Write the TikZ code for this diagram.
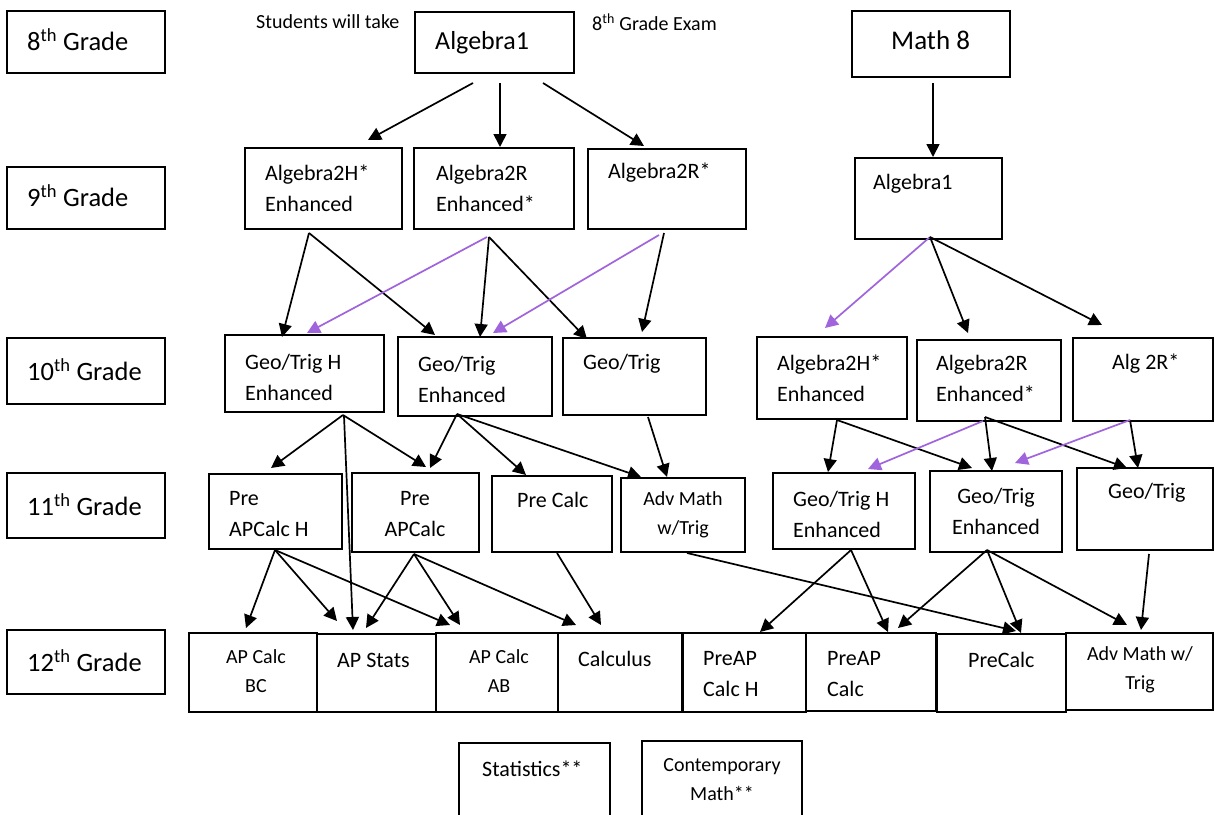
\documentclass[tikz,border=0pt]{standalone}
\usepackage{fontspec}
\setmainfont{Carlito}
\usetikzlibrary{arrows.meta,calc}
\definecolor{purp}{RGB}{160,100,220}
\tikzset{
  box/.style={draw, line width=1.8pt, inner sep=0pt, outer sep=0pt, anchor=north west},
  arr/.style={line width=1.7pt, -{Triangle[length=13pt,width=13pt]}},
  parr/.style={arr, draw=purp, fill=purp},
  tx/.style={inner sep=0pt, anchor=west, align=left, font=\fontsize{22}{31}\selectfont},
  txc/.style={tx, anchor=center, align=center},
  sm/.style={font=\fontsize{20}{29}\selectfont},
  grd/.style={tx, font=\fontsize{26.5}{31}\selectfont},
  big/.style={tx, font=\fontsize{26}{31}\selectfont},
}
\newcommand\bx[5]{\node[box,minimum width={(#4)-(#2)},minimum height={(#5)-(#3)}] (#1) at (#2,#3) {};}
\newcommand\cn[5][arr]{\draw[#1] ($(#2.north west)+(#3)$) -- ($(#4.north west)+(#5)$);}
\newcommand\lb[4][tx]{\node[#1] (#2-t) at ($(#2.north west)+(#3)$) {#4};}
\begin{document}
\begin{tikzpicture}[x=1pt,y=-1pt]
\useasboundingbox (0,0) rectangle (1215,814);
\fill[white] (0,0) rectangle (1215,814);
\clip (0,0) rectangle (1215,814);
% grade labels
\bx{g8}{7}{11}{165}{73}
\bx{g9}{7}{167}{165}{229}
\bx{g10}{7}{338}{165}{404}
\bx{g11}{7}{473}{165}{538}
\bx{g12}{7}{630}{165}{694}
\lb[grd]{g8}{20,29}{8\textsuperscript{th} Grade}
\lb[grd]{g9}{20,29}{9\textsuperscript{th} Grade}
\lb[grd]{g10}{20,32}{10\textsuperscript{th} Grade}
\lb[grd]{g11}{20,32}{11\textsuperscript{th} Grade}
\lb[grd]{g12}{20,31}{12\textsuperscript{th} Grade}
% notes
\node[tx,sm] (note1) at (256,22) {Students will take};
\node[tx,sm] (note2) at (592,22) {8\textsuperscript{th} Grade Exam};
% 8th grade
\bx{alg1T}{415}{12}{574}{73}
\bx{math8}{852}{11}{1010}{77}
\lb[big]{alg1T}{20,31}{Algebra1}
\lb[big,font=\fontsize{27}{31}\selectfont]{math8}{39,29}{Math 8}
% 9th grade
\bx{a2hL}{245}{148}{402}{229}
\bx{a2rL}{414}{148}{574}{229}
\bx{a2rsL}{588}{149}{746}{229}
\bx{alg1R}{855}{158}{1002}{239}
\lb{a2hL}{20,40}{Algebra2H*\\Enhanced}
\lb{a2rL}{22,40}{Algebra2R\\Enhanced*}
\lb{a2rsL}{20,24}{Algebra2R*}
\lb{alg1R}{18,26}{Algebra1}
% 10th grade
\bx{gthL}{225}{335}{384}{412}
\bx{gteL}{398}{337}{552}{416}
\bx{gtL}{563}{338}{706}{415}
\bx{a2hR}{757}{337}{907}{419}
\bx{a2rR}{917}{340}{1061}{421}
\bx{a2rsR}{1073}{338}{1213}{421}
\lb{gthL}{20,42}{Geo/Trig H\\Enhanced}
\lb{gteL}{20,42}{Geo/Trig\\Enhanced}
\lb{gtL}{20,26}{Geo/Trig}
\lb{a2hR}{20,41}{Algebra2H*\\Enhanced}
\lb{a2rR}{19,38}{Algebra2R\\Enhanced*}
\lb{a2rsR}{39,26}{Alg 2R*}
% 11th grade
\bx{papH}{209}{474}{342}{549}
\bx{pap}{352}{473}{479}{552}
\bx{pc}{492}{476}{612}{552}
\bx{adv}{621}{478}{745}{552}
\bx{gthR}{773}{473}{915}{549}
\bx{gteR}{930}{471}{1062}{552}
\bx{gtR}{1077}{468}{1213}{550}
\lb{papH}{20,40}{Pre\\APCalc H}
\lb[txc]{pap}{63,41}{Pre\\APCalc}
\lb{pc}{25,24}{Pre Calc}
\lb[txc,sm]{adv}{62,37}{Adv Math\\w/Trig}
\lb{gthR}{20,41}{Geo/Trig H\\Enhanced}
\lb[txc]{gteR}{66,40}{Geo/Trig\\Enhanced}
\lb{gtR}{31,25}{Geo/Trig}
% 12th grade
\bx{bc}{189}{633}{317}{712}
\bx{stats}{317}{634}{436}{712}
\bx{ab}{436}{633}{558}{712}
\bx{calc}{558}{633}{682}{712}
\bx{paph12}{683}{633}{806}{712}
\bx{pap12}{806}{633}{936}{711}
\bx{pc12}{937}{634}{1066}{712}
\bx{adv12}{1066}{633}{1213}{710}
\lb[txc,sm]{bc}{67,38}{AP Calc\\BC}
\lb{stats}{20,26}{AP Stats}
\lb[txc,sm]{ab}{63,38}{AP Calc\\AB}
\lb{calc}{20,26}{Calculus}
\lb{paph12}{20,41}{PreAP\\Calc H}
\lb{pap12}{21,41}{PreAP\\Calc}
\lb{pc12}{31,26}{PreCalc}
\lb[txc,sm]{adv12}{74,37}{Adv Math w/\\Trig}
% extra
\bx{statistics}{459}{743}{610}{830}
\bx{contemp}{642}{741}{802}{830}
\lb{statistics}{23,26}{Statistics**}
\lb[txc,sm]{contemp}{80,39}{Contemporary\\Math**}
% connectors 8 -> 9
\cn{alg1T}{58,71}{a2hL}{123,-8}
\cn{alg1T}{85,71}{a2rL}{86,-1}
\cn{alg1T}{128,71}{a2rsL}{56,-3}
\cn{math8}{81,72}{alg1R}{78,-1}
% 9 -> 10
\cn{a2hL}{64,85}{gthL}{57,2}
\cn{a2hL}{64,85}{gteL}{37,-2}
\cn{a2rL}{75,89}{gteL}{82,0}
\cn{a2rL}{75,89}{gtL}{24,1}
\cn[parr]{a2rL}{73,89}{gthL}{82,-2}
\cn{a2rsL}{76,84}{gtL}{79,-6}
\cn[parr]{a2rsL}{71,86}{gteL}{95,-4}
\cn[parr]{alg1R}{75,79}{a2hR}{68,-9}
\cn{alg1R}{75,79}{a2rR}{51,-7}
\cn{alg1R}{75,79}{a2rsR}{29,-13}
% 10 -> 11
\cn{gthL}{118,80}{papH}{62,-6}
\cn{gthL}{118,80}{pap}{74,-6}
\cn{gthL}{119,81}{stats}{36,-4}
\cn{gteL}{59,77}{pap}{78,-5}
\cn{gteL}{59,77}{pc}{34,-1}
\cn{gteL}{59,77}{adv}{20,-1}
\cn{gtL}{85,79}{adv}{46,-1}
\cn{a2hR}{80,83}{gthR}{55,-1}
\cn{a2hR}{80,83}{gteR}{42,-3}
\cn{a2rR}{68,77}{gteR}{62,0}
\cn{a2rR}{68,77}{gtR}{50,0}
\cn[parr]{a2rR}{66,81}{gthR}{95,-4}
\cn{a2rsR}{57,82}{gtR}{61,0}
\cn[parr]{a2rsR}{57,82}{gteR}{85,-8}
% 11 -> 12
\cn{papH}{66,76}{bc}{57,-5}
\cn{papH}{66,76}{stats}{20,-13}
\cn{papH}{66,76}{ab}{14,-8}
\cn{pap}{62,81}{stats}{49,-6}
\cn{pap}{62,81}{ab}{24,-8}
\cn{pap}{62,81}{calc}{18,-8}
\cn{pc}{65,77}{calc}{43,-8}
\cn{adv}{66,75}{pc12}{79,-3}
\cn{gthR}{78,77}{paph12}{77,-1}
\cn{gthR}{78,77}{pap12}{82,-1}
\cn{gteR}{57,79}{pap12}{92,-5}
\cn{gteR}{57,79}{pc12}{84,-1}
\cn{gteR}{57,79}{adv12}{61,-8}
\cn{gtR}{72,86}{adv12}{75,-3}
\end{tikzpicture}
\end{document}
